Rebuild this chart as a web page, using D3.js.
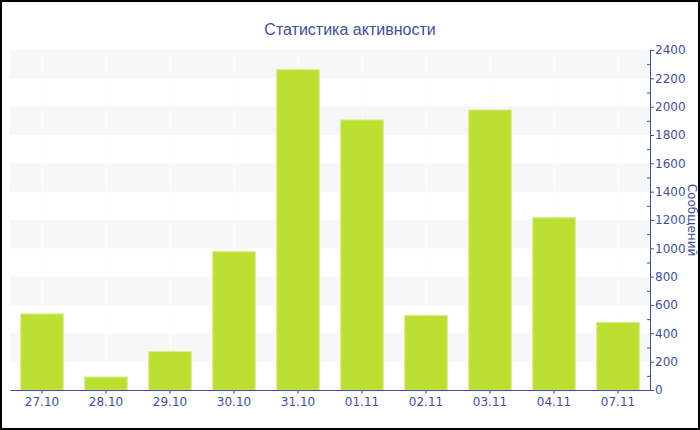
<!DOCTYPE html>
<html>
<head>
<meta charset="utf-8">
<script src="https://cdn.jsdelivr.net/npm/d3@7"></script>
<style>
  html, body { margin: 0; padding: 0; background: #fff; }
  svg { display: block; }
</style>
</head>
<body>
<script>
// chart data
const days = ["27.10", "28.10", "29.10", "30.10", "31.10", "01.11", "02.11", "03.11", "04.11", "07.11"];
const messages = [540, 95, 275, 980, 2265, 1910, 530, 1980, 1220, 480];
const yTicks = [0, 200, 400, 600, 800, 1000, 1200, 1400, 1600, 1800, 2000, 2200, 2400];

// size of the page and the plot area
const w = 700, h = 430;
const plot = { left: 10, right: 650, top: 50, bottom: 390 };
const blue = "#3d4fa0";

const svg = d3.select("body").append("svg")
  .attr("width", w)
  .attr("height", h);

svg.append("rect")
  .attr("x", 1).attr("y", 1)
  .attr("width", w - 2).attr("height", h - 2)
  .attr("fill", "#fff")
  .attr("stroke", "#000")
  .attr("stroke-width", 2);

const x = d3.scaleBand()
  .domain(days)
  .range([plot.left, plot.right])
  .paddingInner(0.32)
  .paddingOuter(0.16);

const y = d3.scaleLinear()
  .domain([0, 2400])
  .range([plot.bottom, plot.top]);

// alternating grey bands
const bands = d3.range(0, yTicks.length - 1).filter(i => i % 2 === 1);
svg.append("g").selectAll("rect")
  .data(bands)
  .enter().append("rect")
  .attr("x", plot.left)
  .attr("width", plot.right - plot.left)
  .attr("y", i => y(yTicks[i + 1]))
  .attr("height", i => y(yTicks[i]) - y(yTicks[i + 1]))
  .attr("fill", "#f7f7f7");

// faint vertical grid at the category centres
svg.append("g").selectAll("line")
  .data(days)
  .enter().append("line")
  .attr("x1", d => x(d) + x.bandwidth() / 2 + 0.5)
  .attr("x2", d => x(d) + x.bandwidth() / 2 + 0.5)
  .attr("y1", plot.top)
  .attr("y2", plot.bottom)
  .attr("stroke", "#fcfcfc")
  .attr("stroke-width", 1);

// bars
svg.append("g").selectAll("rect")
  .data(messages)
  .enter().append("rect")
  .attr("x", (d, i) => x(days[i]) + 0.5)
  .attr("y", d => y(d) + 0.5)
  .attr("width", x.bandwidth() - 1)
  .attr("height", d => plot.bottom - y(d) - 0.5)
  .attr("fill", "#bce031")
  .attr("stroke", "#d5ec88")
  .attr("stroke-width", 1);

// x axis
svg.append("g")
  .attr("transform", "translate(0," + plot.bottom + ")")
  .call(d3.axisBottom(x).tickSize(4).tickSizeOuter(0).tickPadding(3));

// right y axis, minor ticks on the inside
svg.append("g")
  .attr("transform", "translate(" + plot.right + ",0)")
  .call(d3.axisLeft(y).tickValues(d3.range(100, 2400, 200)).tickSize(3).tickFormat(""))
  .call(g => g.select(".domain").remove());

svg.append("g")
  .attr("transform", "translate(" + plot.right + ",0)")
  .call(d3.axisRight(y).tickValues(yTicks).tickFormat(d3.format("d"))
    .tickSize(4).tickSizeOuter(0).tickPadding(1));

svg.selectAll(".domain, .tick line").attr("stroke", blue);
svg.selectAll(".tick text")
  .attr("fill", blue)
  .style("font-family", "'DejaVu Sans', Verdana, sans-serif")
  .style("font-size", "12px");

// title
svg.append("text")
  .attr("x", 350)
  .attr("y", 31)
  .attr("text-anchor", "middle")
  .attr("dominant-baseline", "middle")
  .style("font-family", "'Liberation Sans', Arial, sans-serif")
  .style("font-size", "16px")
  .attr("fill", blue)
  .text("Статистика активности");

// y axis title, tucked against the right border
svg.append("text")
  .attr("transform", "translate(688," + ((plot.top + plot.bottom) / 2) + ") rotate(90)")
  .attr("text-anchor", "middle")
  .style("font-family", "'DejaVu Sans', Verdana, sans-serif")
  .style("font-size", "12px")
  .attr("fill", blue)
  .text("Сообщений");
</script>
</body>
</html>
